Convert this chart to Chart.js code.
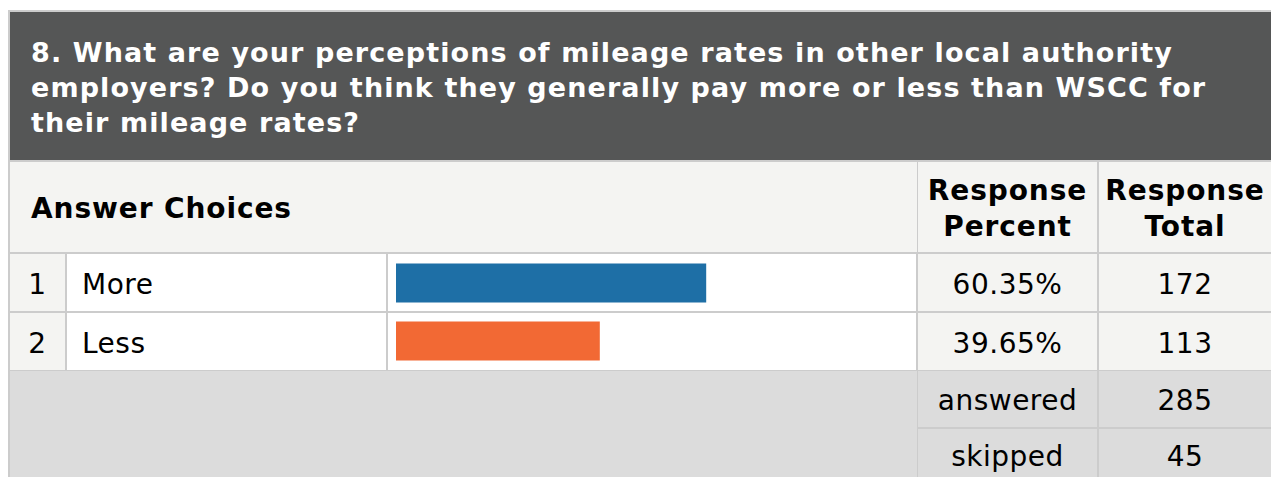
<!DOCTYPE html>
<html>
<head>
<meta charset="utf-8">
<script src="https://cdn.jsdelivr.net/npm/chart.js@4"></script>
<style>
  html, body { margin: 0; padding: 0; background: #fff; width: 1271px; height: 477px; overflow: hidden; }
  body { position: relative; font-family: "DejaVu Sans", Verdana, sans-serif; }
  .box { position: absolute; box-sizing: border-box; }
  .cell { position: absolute; box-sizing: border-box; display: flex; align-items: center; justify-content: center; color: #000; font-size: 28px; letter-spacing: 0.5px; padding-top: 3px; }
  .bold { font-weight: bold; letter-spacing: 0.9px; }
  #title { color: #fff; font-weight: bold; font-size: 27px; letter-spacing: 1.1px; line-height: 35px; padding: 23px 0 0 21px; }
  #bars { position: absolute; left: 388px; top: 254px; z-index: 2; }
</style>
</head>
<body>
<div id="sheet"></div>
<canvas id="bars" width="529" height="116"></canvas>
<script>
// Survey question and results
const question = "8. What are your perceptions of mileage rates in other local authority employers? Do you think they generally pay more or less than WSCC for their mileage rates?";
const headers = ["Answer Choices", "Response\nPercent", "Response\nTotal"];
const choices = ["More", "Less"];
const percents = [60.35, 39.65];
const totals = [172, 113];
const summaryLabels = ["answered", "skipped"];
const summaryValues = [285, 45];
const barColors = ["#1e6fa6", "#f26934"];

const sheet = document.getElementById("sheet");
function place(x0, y0, x1, y1, bg, cls, html, extra) {
  const d = document.createElement("div");
  d.className = cls || "box";
  Object.assign(d.style, {
    left: x0 + "px", top: y0 + "px",
    width: (x1 - x0) + "px", height: (y1 - y0) + "px",
    background: bg
  }, extra || {});
  if (html !== undefined) d.innerHTML = html;
  sheet.appendChild(d);
  return d;
}

// frame (gaps between cells show as grid lines)
place(8, 10, 1290, 477, "#cccccc");

// question banner
const t = place(10, 12, 1290, 160, "#555656", "box", question);
t.id = "title";
t.style.paddingRight = "50px";

// header row
place(10, 162, 917, 252, "#f4f4f2", "cell bold", headers[0],
  { justifyContent: "flex-start", paddingLeft: "21px" });
place(918, 162, 1097, 252, "#f4f4f2", "cell bold", headers[1].replace("\n", "<br>"),
  { textAlign: "center", lineHeight: "36px" });
place(1099, 162, 1290, 252, "#f4f4f2", "cell bold", headers[2].replace("\n", "<br>"),
  { textAlign: "center", lineHeight: "36px", paddingRight: "19px" });

// answer rows
choices.forEach((c, i) => {
  const y0 = 254 + i * 59, y1 = y0 + 57;
  place(10, y0, 65, y1, "#f4f4f2", "cell", String(i + 1));
  place(67, y0, 386, y1, "#ffffff", "cell", c, { justifyContent: "flex-start", paddingLeft: "15px" });
  place(388, y0, 916, y1, "#ffffff");
  place(918, y0, 1097, y1, "#f4f4f2", "cell", percents[i].toFixed(2) + "%");
  place(1099, y0, 1290, y1, "#f4f4f2", "cell", String(totals[i]), { paddingRight: "19px" });
});

// summary rows
place(10, 371, 917, 477, "#dcdcdc");
summaryLabels.forEach((s, i) => {
  const y0 = 371 + i * 58, y1 = i === 0 ? 427 : 481;
  place(918, y0, 1097, y1, "#dcdcdc", "cell", s);
  place(1099, y0, 1290, y1, "#dcdcdc", "cell", String(summaryValues[i]), { paddingRight: "19px" });
});

// horizontal bars for the response percentages
new Chart(document.getElementById("bars"), {
  type: "bar",
  data: {
    labels: choices,
    datasets: [{
      data: percents,
      backgroundColor: barColors,
      borderWidth: 0,
      categoryPercentage: 1,
      barPercentage: 39 / 58
    }]
  },
  options: {
    indexAxis: "y",
    responsive: false,
    animation: false,
    devicePixelRatio: 1,
    layout: { padding: { left: 8, right: 7, top: 0, bottom: 0 } },
    scales: {
      x: { display: false, min: 0, max: 100 },
      y: { display: false }
    },
    plugins: { legend: { display: false }, tooltip: { enabled: false } }
  }
});
</script>
</body>
</html>
